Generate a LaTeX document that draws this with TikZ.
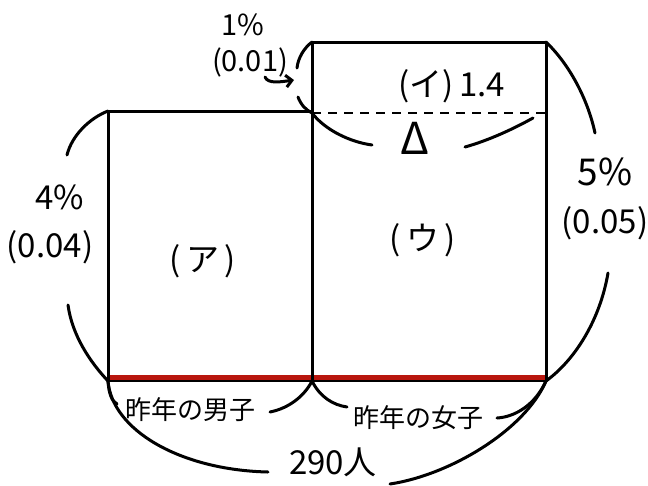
\documentclass[tikz,border=0pt]{standalone}
\usepackage{fontspec}
\newfontfamily\jpfont{Noto Sans CJK JP}
\usepackage{tikz}
\usetikzlibrary{arrows.meta}
\definecolor{lastyear}{RGB}{185, 22, 14}

\begin{document}
\begin{tikzpicture}[x=1pt, y=-1pt, line width=3pt, line cap=round, line join=round,
  lbl/.style={font=\jpfont\fontsize{26}{28}\selectfont, inner sep=0pt},
  big/.style={lbl, font=\jpfont\fontsize{33}{35}\selectfont},
  mid/.style={lbl, font=\jpfont\fontsize{29}{31}\selectfont},
  brace/.style={line width=3pt}]
  \useasboundingbox (0,0) rectangle (648,485);
  % corners of the two areas
  \coordinate (mtl) at (108,111);
  \coordinate (mtr) at (312,111);
  \coordinate (mbl) at (108,381);
  \coordinate (mbr) at (312,381);
  \coordinate (wtl) at (312,42);
  \coordinate (wtr) at (546,42);
  \coordinate (wbr) at (546,381);
  \coordinate (wdl) at (312,113);
  \coordinate (wdr) at (546,113);
  % the red base (last year)
  \draw[lastyear, line width=6pt, line cap=butt] (108,378) -- (546,378);
  \draw (mbl) -- (mtl) -- (mtr) -- (mbr);
  \draw (mbr) -- (wtl) -- (wtr) -- (wbr);
  \draw[line width=2pt] (mbl) -- (wbr);
  \draw[dash pattern=on 9pt off 7pt, line width=2.5pt, line cap=butt] (wdl) -- (wdr);
  % labels
  \node[big] (ta) at (203,261) {(\,ア\,)};
  \node[big] (tu) at (423,240) {(\,ウ\,)};
  \node[big] (ti) at (452,86) {(イ)\,1.4};
  \node[lbl, font=\jpfont\fontsize{44}{46}\selectfont] (tdelta) at (415,138) {Δ};
  \node[big] (p4) at (60,197) {4\%};
  \node[big] (r4) at (50,247) {(0.04)};
  \node[big, font=\jpfont\fontsize{37}{39}\selectfont] (p5) at (605,172) {5\%};
  \node[big] (r5) at (605,223) {(0.05)};
  \node[mid] (p1) at (243,25) {1\%};
  \node[mid] (r1) at (250,62) {(0.01)};
  \node[lbl] (boys) at (190,410) {昨年の男子};
  \node[lbl] (girls) at (418,418) {昨年の女子};
  \node[big] (total) at (333,462) {290人};
  % free ends of the braces
  \coordinate (l4a) at (67,155);
  \coordinate (l4b) at (68,305);
  \coordinate (r5a) at (595,133);
  \coordinate (r5b) at (608,273);
  \coordinate (t1a) at (297,68);
  \coordinate (t1b) at (298,97);
  \coordinate (da) at (372,145);
  \coordinate (db) at (465,147);
  \coordinate (dc) at (533,118);
  \coordinate (ba) at (117,404);
  \coordinate (bb) at (270,412);
  \coordinate (ga) at (347,407);
  \coordinate (gb) at (497,418);
  \coordinate (sa) at (268,472);
  \coordinate (sb) at (390,484);
  \coordinate (arra) at (265,77);
  \coordinate (arrb) at (294,80);
  % braces
  \draw[brace] (mtl) .. controls (90,118) and (72,135) .. (l4a);
  \draw[brace] (l4b) .. controls (72,335) and (90,362) .. (mbl);
  \draw[brace] (wtr) .. controls (570,65) and (588,100) .. (r5a);
  \draw[brace] (r5b) .. controls (600,320) and (575,360) .. (wbr);
  \draw[brace] (wtl) .. controls (304,48) and (298,58) .. (t1a);
  \draw[brace] (t1b) .. controls (301,105) and (306,110) .. (wdl);
  \draw[brace] (wdl) .. controls (325,130) and (350,142) .. (da);
  \draw[brace] (db) .. controls (490,140) and (515,128) .. (dc);
  \draw[brace] (mbl) .. controls (109,395) and (112,401) .. (ba);
  \draw[brace] (bb) .. controls (290,408) and (305,395) .. (mbr);
  \draw[brace] (mbr) .. controls (320,397) and (333,405) .. (ga);
  \draw[brace] (gb) .. controls (515,417) and (535,405) .. (wbr);
  \draw[brace] (mbl) .. controls (112,430) and (180,470) .. (sa);
  \draw[brace] (sb) .. controls (450,475) and (525,430) .. (wbr);
  \draw[brace, -{Straight Barb[length=6pt]}] (arra) .. controls (268,84) and (280,82) .. (arrb);
\end{tikzpicture}
\end{document}
